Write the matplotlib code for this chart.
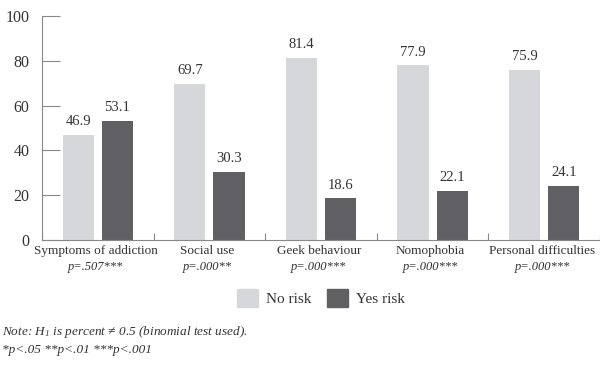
import numpy as np
import matplotlib.pyplot as plt
from matplotlib.patches import Patch

categories = ["Symptoms of addiction", "Social use", "Geek behaviour", "Nomophobia", "Personal difficulties"]
pvalues = ["p=.507***", "p=.000**", "p=.000***", "p=.000***", "p=.000***"]
no_risk = [46.9, 69.7, 81.4, 77.9, 75.9]
yes_risk = [53.1, 30.3, 18.6, 22.1, 24.1]

plt.rcParams['font.family'] = ['Liberation Serif', 'DejaVu Serif']
plt.rcParams['mathtext.fontset'] = 'custom'
plt.rcParams['mathtext.it'] = 'Liberation Serif:italic'
plt.rcParams['mathtext.rm'] = 'Liberation Serif:italic'
light = "#d6d7da"
dark = "#605f63"
txt = "#333333"
spine = "#888888"

fig = plt.figure(figsize=(6, 3.7), dpi=100)
ax = fig.add_axes([0.07, 0.351, 0.93, 0.606])

x = np.arange(len(categories))
w = 0.28
b1 = ax.bar(x - 0.175, no_risk, w, color=light)
b2 = ax.bar(x + 0.175, yes_risk, w, color=dark)
for bars, vals in ((b1, no_risk), (b2, yes_risk)):
    for b, v in zip(bars, vals):
        ax.text(b.get_x() + b.get_width() / 2, v + 3, f"{v:.1f}",
                ha="center", va="bottom", fontsize=10.5, color=txt)

ax.set_xlim(-0.5, len(categories) - 0.5)
ax.set_ylim(0, 100)
ax.set_yticks([0, 20, 40, 60, 80, 100])
ax.tick_params(axis="y", direction="in", length=13, color=spine, labelsize=11.5, labelcolor=txt, pad=9)
ax.set_xticks(np.arange(len(categories) + 1) - 0.5)
ax.set_xticklabels([])
ax.tick_params(axis="x", direction="in", length=5, color=spine)
for s in ("top", "right"):
    ax.spines[s].set_visible(False)
for s in ("left", "bottom"):
    ax.spines[s].set_color(spine)

for i, (c, p) in enumerate(zip(categories, pvalues)):
    ax.text(i - 0.02, -2.2, c, ha="center", va="top", fontsize=9.5, color=txt)
    ax.text(i - 0.02, -9.5, p, ha="center", va="top", fontsize=9, style="italic", color=txt)

handles = [Patch(color=light, label="No risk"), Patch(color=dark, label="Yes risk")]
fig.legend(handles=handles, loc="center", bbox_to_anchor=(0.535, 0.195), ncol=2,
           frameon=False, fontsize=11, handlelength=1.4, handleheight=1.5,
           columnspacing=1.0, handletextpad=0.5, labelcolor=txt)

fig.text(0.003, 0.103, "Note: $H_1$ is percent ≠ 0.5 (binomial test used).",
         fontsize=9.5, style="italic", color=txt, va="center")
fig.text(0.003, 0.054, "*p<.05 **p<.01 ***p<.001",
         fontsize=9.5, style="italic", color=txt, va="center")

fig.savefig("out.png", dpi=100)
